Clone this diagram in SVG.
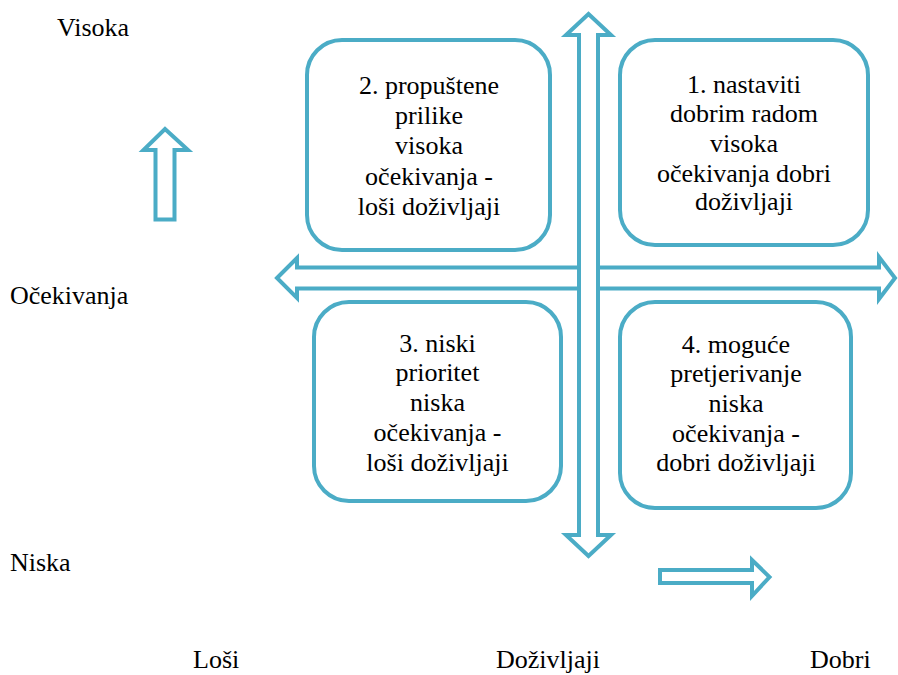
<svg xmlns="http://www.w3.org/2000/svg" width="898" height="675" viewBox="0 0 898 675">
<style>
.box{fill:#fff;stroke:#4BACC6;stroke-width:4}
.arr{fill:#fff;stroke:#4BACC6;stroke-width:4;stroke-linejoin:miter}
text,tspan{font-family:"Liberation Serif","Times New Roman",serif;font-size:26px;fill:#000}
.c{text-anchor:middle}
</style>
<rect width="898" height="675" fill="#fff"/>
<g id="connectors">
<path class="arr" d="M277,278 L297,258 L297,267.5 L879,267.5 L879,257 L895,278 L879,299 L879,288.5 L297,288.5 L297,298 Z"/>
<path class="arr" d="M588.5,14 L611,35 L598,35 L598,535 L611,535 L588.5,556 L566,535 L579,535 L579,35 L566,35 Z"/>
<path class="arr" d="M165,129 L188,150 L174.5,150 L174.5,219.5 L155.5,219.5 L155.5,150 L143.5,150 Z"/>
<path class="arr" d="M660,570 L752,570 L752,560 L769.5,577 L752,596 L752,583 L660,583 Z"/>
</g>
<g id="q1">
<rect class="box" x="620" y="40" width="248" height="205" rx="35"/>
<text class="c" font-family="Liberation Serif, serif" x="744"><tspan x="744" y="93">1. nastaviti</tspan><tspan x="744" y="122">dobrim radom</tspan><tspan x="744" y="152">visoka</tspan><tspan x="744" y="182">očekivanja dobri</tspan><tspan x="744" y="210">doživljaji</tspan></text>
</g>
<g id="q2">
<rect class="box" x="307" y="40" width="243" height="210" rx="35"/>
<text class="c" font-family="Liberation Serif, serif" x="429"><tspan x="429" y="94">2. propuštene</tspan><tspan x="429" y="124">prilike</tspan><tspan x="429" y="154">visoka</tspan><tspan x="429" y="185">očekivanja -</tspan><tspan x="429" y="215">loši doživljaji</tspan></text>
</g>
<g id="q3">
<rect class="box" x="314" y="302" width="247" height="199" rx="35"/>
<text class="c" font-family="Liberation Serif, serif" x="437.5"><tspan x="437.5" y="352">3. niski</tspan><tspan x="437.5" y="381">prioritet</tspan><tspan x="437.5" y="411">niska</tspan><tspan x="437.5" y="441">očekivanja -</tspan><tspan x="437.5" y="471">loši doživljaji</tspan></text>
</g>
<g id="q4">
<rect class="box" x="620" y="302" width="231" height="206" rx="35"/>
<text class="c" font-family="Liberation Serif, serif" x="736"><tspan x="736" y="353">4. moguće</tspan><tspan x="736" y="382">pretjerivanje</tspan><tspan x="736" y="412">niska</tspan><tspan x="736" y="442">očekivanja -</tspan><tspan x="736" y="471">dobri doživljaji</tspan></text>
</g>
<g id="labels">
<text x="57" y="36">Visoka</text>
<text x="10" y="304">Očekivanja</text>
<text x="10" y="571">Niska</text>
<text x="193" y="668">Loši</text>
<text x="496" y="668">Doživljaji</text>
<text x="810" y="668">Dobri</text>
</g>
</svg>
